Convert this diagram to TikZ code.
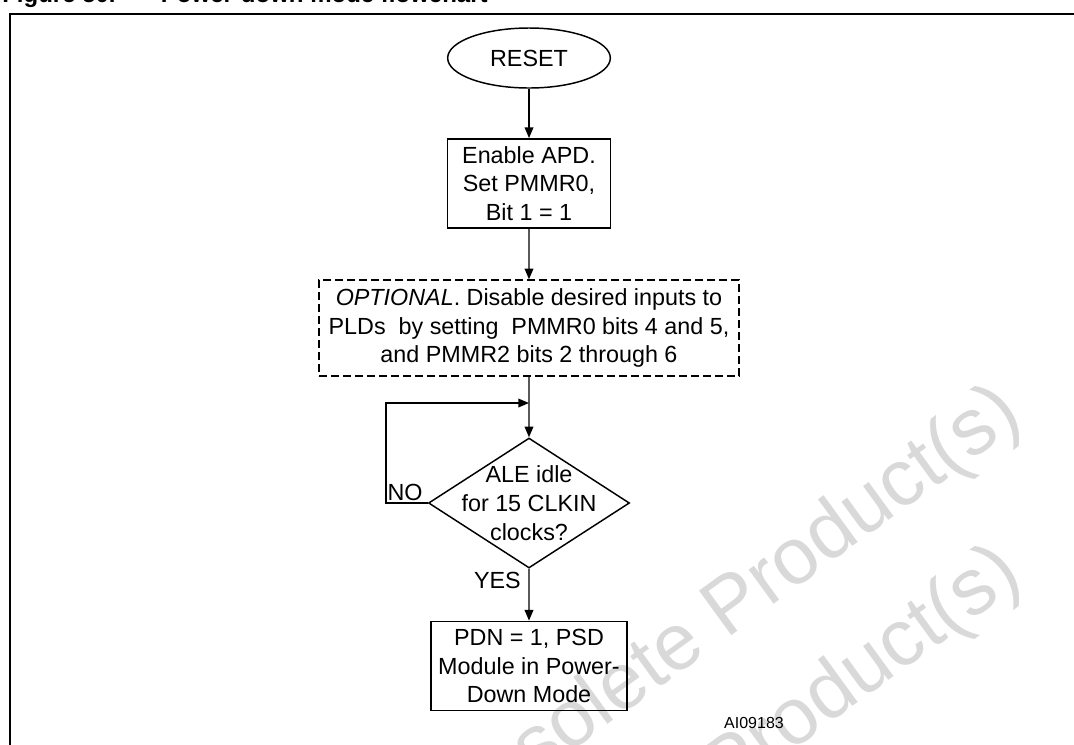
\documentclass[tikz,border=0pt]{standalone}
\usepackage{fontspec}
\setmainfont{Liberation Sans}
\usetikzlibrary{shapes.geometric,arrows.meta}
\definecolor{wmgray}{HTML}{D9D9D9}

\begin{document}
\begin{tikzpicture}[
  x=0.75pt, y=-0.75pt,
  font=\fontsize{17.5}{21.5}\selectfont,
  flow/.style={draw, line width=1.1pt, -{Triangle[length=8pt,width=6.5pt]}},
  edge from parent/.style={flow},
  startstop/.style={ellipse, draw, line width=1.1pt, minimum width=122pt, minimum height=45pt, inner sep=0pt},
  procbox/.style={rectangle, draw, line width=1.1pt, align=center, minimum height=67pt, inner sep=0pt},
  optbox/.style={rectangle, draw, line width=1.1pt, dash pattern=on 6pt off 3pt, align=center, minimum width=315pt, minimum height=72pt, inner sep=0pt},
  decision/.style={diamond, draw, line width=1.1pt, minimum width=150.75pt, minimum height=97.5pt, inner sep=0pt},
  lbl/.style={inner sep=0pt},
  wmark/.style={text=wmgray, font=\fontsize{60}{60}\selectfont, inner sep=0pt, rotate=36, anchor=base east},
  level 1/.style={level distance=94.1pt},
  level 2/.style={level distance=108.4pt},
  level 3/.style={level distance=131.25pt},
  level 4/.style={level distance=122.25pt}
]
\useasboundingbox (0,0) rectangle (1074,744);
\clip (0,0) rectangle (1074,744);

\node[wmark] (wm1) at (1025,422) {Obsolete Product(s)};
\node[wmark] (wm2) at (1025,582) {Obsolete Product(s)};

\node[lbl, anchor=base west, font=\bfseries\fontsize{18}{19}\selectfont] (title) at (2,2)
  {Figure 50.\hspace{34pt}Power-down mode flowchart};
\draw[line width=1.9pt] (10,14) rectangle (1100,780);

\node[startstop] (reset) at (529,58) {RESET}
  child { node[procbox, minimum width=122pt] (apd) {Enable APD.\\Set PMMR0,\\Bit 1 = 1}
    child { node[optbox] (opt) {\textit{OPTIONAL}. Disable desired inputs to\\PLDs\ \ by setting\ \ PMMR0 bits 4 and 5,\\and PMMR2 bits 2 through 6}
      child { node[decision, label={[lbl, align=center]center:ALE idle\\for 15 CLKIN\\clocks?}] (idle) {}
        child { node[procbox, minimum width=147pt] (pdn) {PDN = 1, PSD\\Module in Power-\\Down Mode} }
      }
    }
  };

\coordinate (loopup) at (386,403);
\draw[flow] (idle.west) -| (loopup) -- (opt.south |- loopup);

\node[lbl, anchor=base east] (no) at ([shift={(-5,-3)}]idle.west) {NO};
\node[lbl, anchor=base east] (yes) at ([shift={(-8,20)}]idle.south) {YES};
\node[lbl, font=\fontsize{12}{13}\selectfont] (ref) at (754,723) {AI09183};
\end{tikzpicture}
\end{document}
